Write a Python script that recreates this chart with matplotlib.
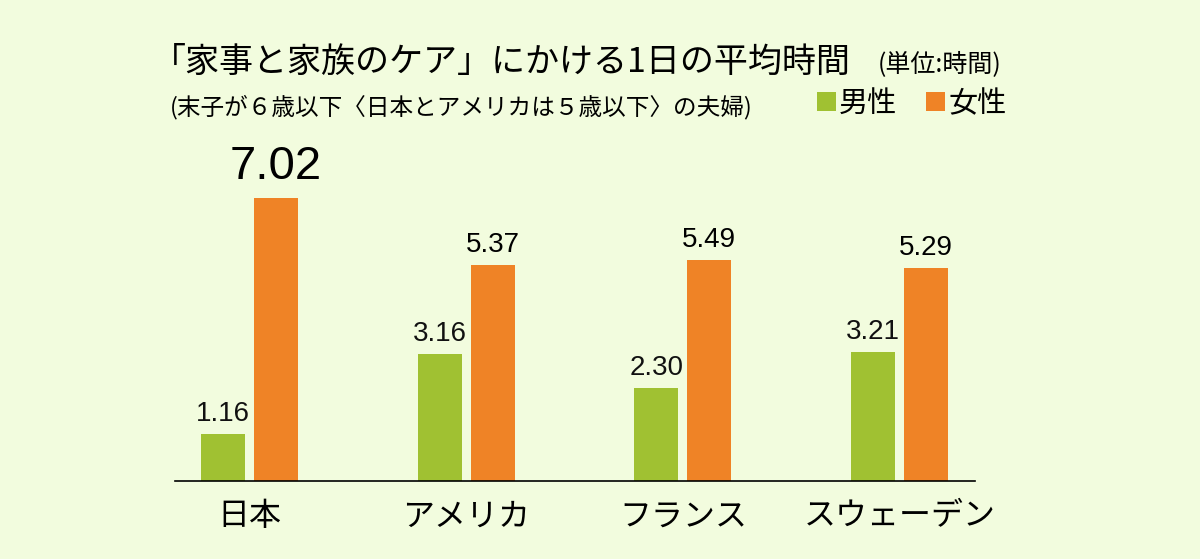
import numpy as np
import matplotlib.pyplot as plt

plt.rcParams['font.family'] = ['Noto Sans CJK JP', 'DejaVu Sans']

countries = ['日本', 'アメリカ', 'フランス', 'スウェーデン']
men = [1.16, 3.16, 2.30, 3.21]
women = [7.02, 5.37, 5.49, 5.29]
series_names = ['男性', '女性']

title = '「家事と家族のケア」にかける1日の平均時間'
unit = '(単位:時間)'
subtitle = '(末子が６歳以下〈日本とアメリカは５歳以下〉の夫婦)'

bg = '#F2FCDE'
green = '#A0C132'
orange = '#EF8326'

W, H = 1200, 559
fig = plt.figure(figsize=(W / 100, H / 100), dpi=100, facecolor=bg)
ax = fig.add_axes([175 / W, 78 / H, 800 / W, 322 / H])
ax.set_facecolor(bg)

x = np.arange(len(countries))
bw = 0.203
off = 0.122
b1 = ax.bar(x - off, men, bw, color=green, label=series_names[0])
b2 = ax.bar(x + off, women, bw, color=orange, label=series_names[1])

ax.set_xlim(-0.344, 3.348)
ax.set_ylim(0, 8)

for s in ['top', 'left', 'right']:
    ax.spines[s].set_visible(False)
ax.spines['bottom'].set_linewidth(1.2)
ax.spines['bottom'].set_color('black')
ax.set_yticks([])
ax.set_xticks(x)
ax.set_xticklabels(countries, fontsize=23)
ax.tick_params(axis='x', length=0, pad=14)

num_font = ['Liberation Sans', 'DejaVu Sans']
for xi, v in zip(x - off, men):
    ax.annotate(f'{v:.2f}', (xi, v), xytext=(0, 5), textcoords='offset points',
                ha='center', va='bottom', fontsize=20, family=num_font, color='#111111')
for i, (xi, v) in enumerate(zip(x + off, women)):
    big = i == 0
    ax.annotate(f'{v:.2f}', (xi, v), xytext=(0, 7 if big else 5), textcoords='offset points',
                ha='center', va='bottom', fontsize=34 if big else 20,
                family=num_font, color='black')

fig.text(152 / W, 1 - 62 / H, title, fontsize=24.5, ha='left', va='center')
fig.text(878 / W, 1 - 64 / H, unit, fontsize=18, ha='left', va='center')
fig.text(170 / W, 1 - 107 / H, subtitle, fontsize=17, ha='left', va='center')

fig.legend(handles=[b1, b2], ncol=2, frameon=False, fontsize=21,
           loc='center left', bbox_to_anchor=(817 / W, 1 - 104 / H),
           handlelength=0.65, handleheight=0.65, handletextpad=0.1,
           columnspacing=1.0, borderaxespad=0, borderpad=0)

fig.savefig('out.png', dpi=100, facecolor=bg)
